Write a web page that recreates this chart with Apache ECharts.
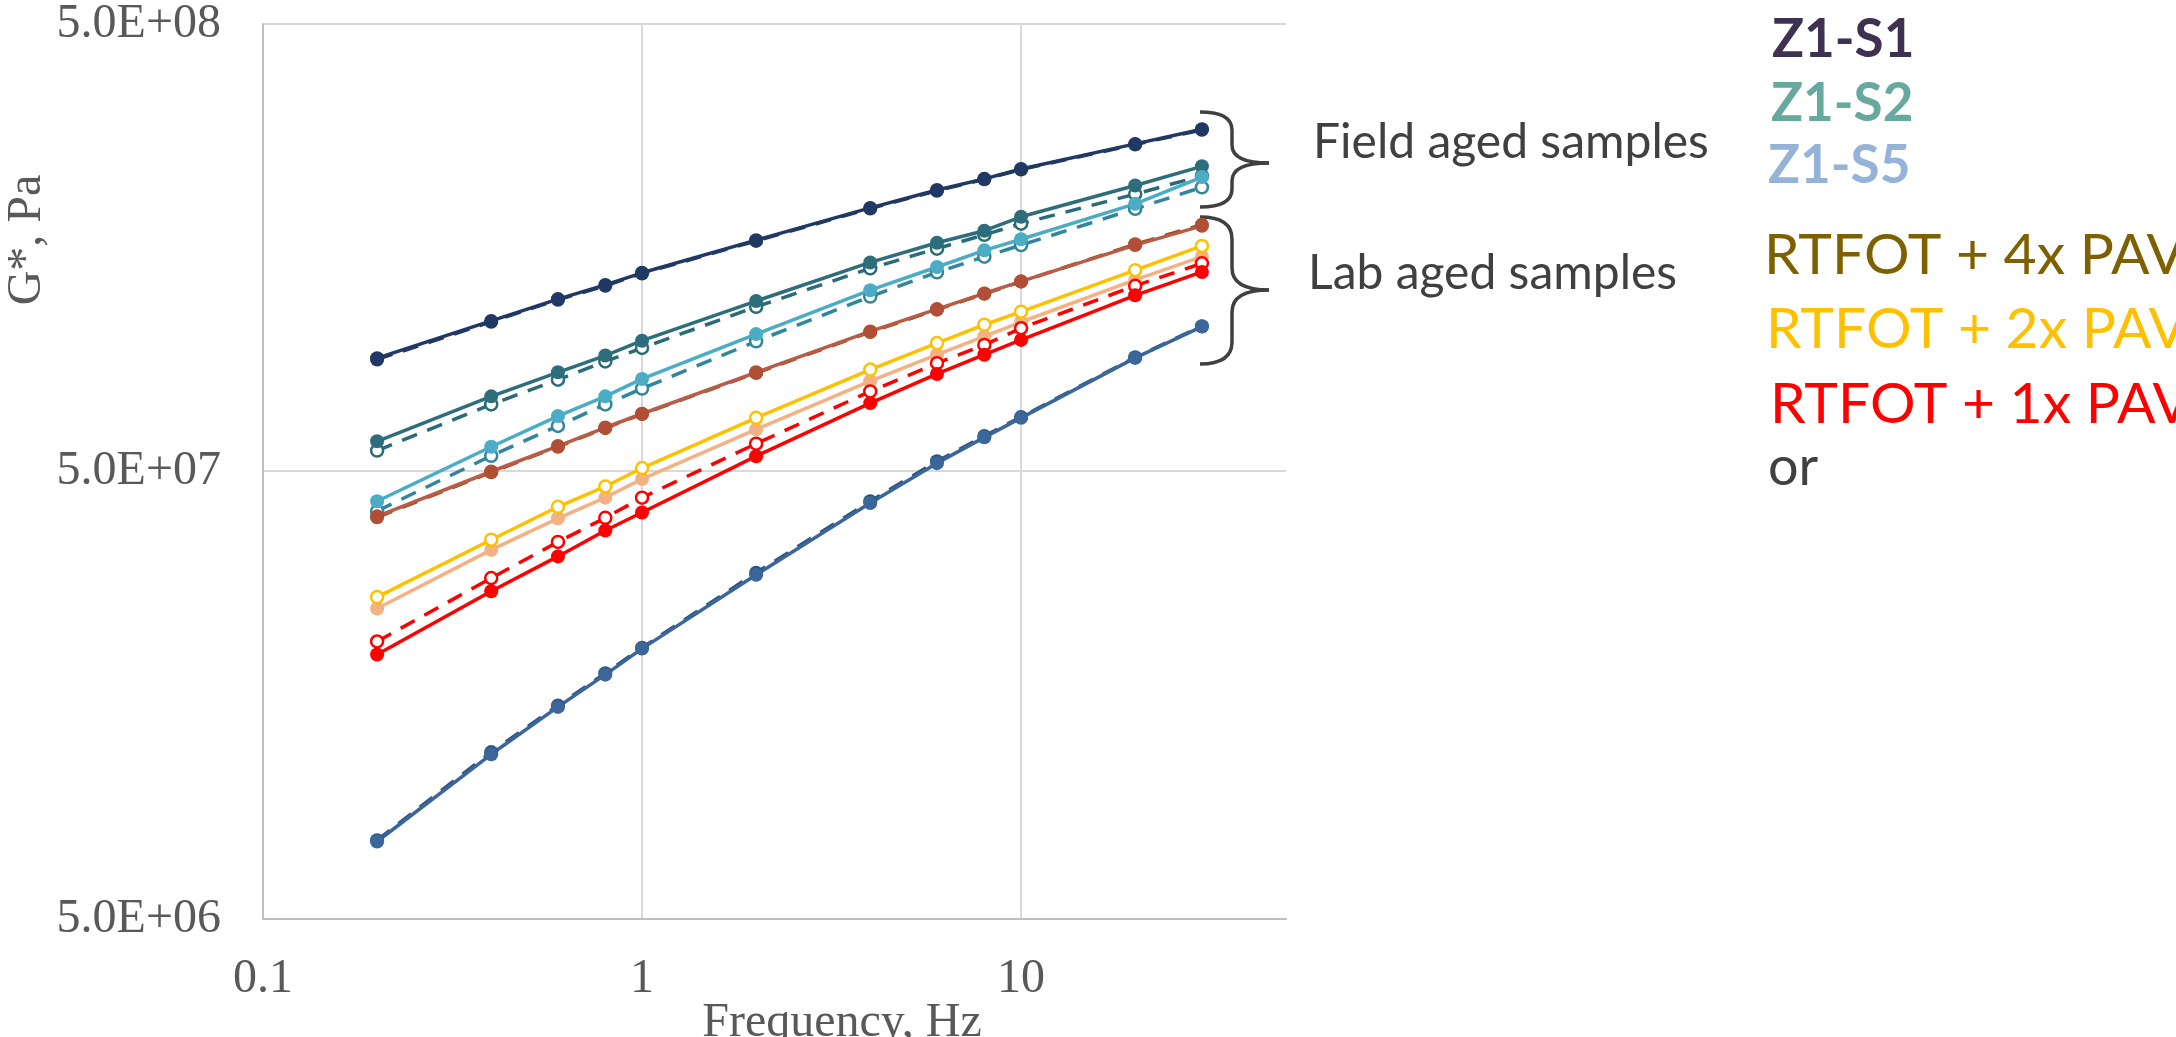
<!DOCTYPE html>
<html lang="en">
<head>
	<meta charset="UTF-8">
	<title>G* vs frequency</title>
	<style>
		html, body { margin: 0; padding: 0; background: #fff; }
	</style>
</head>
<body>
	<div id="main" style="width: 2176px;height: 1037px"></div>
	<script src="https://cdn.jsdelivr.net/npm/echarts@6/dist/echarts.min.js"></script>
	<script>
		// frequency, Hz
		var freq = [0.2, 0.4, 0.6, 0.8, 1, 2, 4, 6, 8, 10, 20, 30]

		// G*, Pa  (field aged)
		var s1Solid  = [8.96e7, 1.085e8, 1.214e8, 1.306e8, 1.39e8, 1.644e8, 1.941e8, 2.128e8, 2.254e8, 2.371e8, 2.698e8, 2.91e8]
		var s1Dashed = [8.9e7, 1.08e8, 1.21e8, 1.30e8, 1.385e8, 1.638e8, 1.935e8, 2.12e8, 2.25e8, 2.365e8, 2.69e8, 2.90e8]
		var s2Solid  = [5.84e7, 7.36e7, 8.33e7, 9.08e7, 9.80e7, 1.202e8, 1.466e8, 1.622e8, 1.726e8, 1.854e8, 2.178e8, 2.404e8]
		var s2Dashed = [5.57e7, 7.06e7, 8.02e7, 8.81e7, 9.44e7, 1.167e8, 1.422e8, 1.574e8, 1.69e8, 1.79e8, 2.084e8, 2.29e8]
		var s5Solid  = [4.29e7, 5.68e7, 6.65e7, 7.36e7, 8.05e7, 1.014e8, 1.271e8, 1.432e8, 1.56e8, 1.652e8, 1.982e8, 2.275e8]
		var s5Dashed = [4.08e7, 5.42e7, 6.32e7, 7.06e7, 7.66e7, 9.77e7, 1.23e8, 1.393e8, 1.51e8, 1.603e8, 1.932e8, 2.158e8]
		// lab aged
		var pav4Solid  = [3.97e7, 5.0e7, 5.70e7, 6.27e7, 6.73e7, 8.33e7, 1.028e8, 1.153e8, 1.25e8, 1.33e8, 1.603e8, 1.77e8]
		var pav4Dashed = [3.95e7, 4.98e7, 5.68e7, 6.25e7, 6.72e7, 8.30e7, 1.025e8, 1.15e8, 1.248e8, 1.328e8, 1.61e8, 1.78e8]
		var pav2Open   = [2.62e7, 3.52e7, 4.17e7, 4.63e7, 5.09e7, 6.59e7, 8.45e7, 9.68e7, 1.064e8, 1.138e8, 1.409e8, 1.596e8]
		var pav2Filled = [2.47e7, 3.34e7, 3.93e7, 4.37e7, 4.81e7, 6.21e7, 7.96e7, 9.12e7, 1.002e8, 1.079e8, 1.34e8, 1.51e8]
		var pav1Open   = [2.085e7, 2.89e7, 3.48e7, 3.94e7, 4.37e7, 5.77e7, 7.55e7, 8.73e7, 9.59e7, 1.045e8, 1.30e8, 1.459e8]
		var pav1Filled = [1.95e7, 2.70e7, 3.23e7, 3.69e7, 4.05e7, 5.41e7, 7.11e7, 8.26e7, 9.12e7, 9.84e7, 1.238e8, 1.396e8]
		var baseSolid  = [7.45e6, 1.167e7, 1.489e7, 1.758e7, 2.01e7, 2.94e7, 4.25e7, 5.22e7, 5.96e7, 6.59e7, 8.97e7, 1.054e8]
		var baseDashed = [7.5e6, 1.18e7, 1.50e7, 1.77e7, 2.02e7, 2.97e7, 4.29e7, 5.27e7, 6.0e7, 6.62e7, 9.0e7, 1.056e8]

		function pts(arr) {
			return freq.map(function (f, i) { return [f, arr[i]] })
		}

		function line(name, arr, color, dashed, open, markColor) {
			return {
				name: name,
				type: 'line',
				data: pts(arr),
				symbol: 'circle',
				symbolSize: open ? 12 : 14,
				lineStyle: { color: color, width: 3.5, type: dashed ? [16, 11] : 'solid' },
				itemStyle: open
					? { color: '#fff', borderColor: color, borderWidth: 2.5 }
					: { color: markColor || color, borderColor: markColor || color, borderWidth: 0 },
				emphasis: { disabled: true }
			}
		}

		function sciLabel(v) {
			var p = v.toExponential(1).split('e')
			var e = p[1]
			return p[0] + 'E' + e[0] + (e.slice(1).length < 2 ? '0' + e.slice(1) : e.slice(1))
		}

		// right-facing curly brace made of curves and lines
		function brace(x0, x1, x2, y0, ym, y1, r) {
			var st = { stroke: '#404040', lineWidth: 3.5, fill: null }
			var c = function (ax, ay, cx, cy, bx, by) {
				return { type: 'bezierCurve', shape: { x1: ax, y1: ay, cpx1: cx, cpy1: cy, x2: bx, y2: by }, style: st }
			}
			var l = function (ax, ay, bx, by) {
				return { type: 'line', shape: { x1: ax, y1: ay, x2: bx, y2: by }, style: st }
			}
			return [
				c(x0, y0, x1, y0, x1, y0 + r),
				l(x1, y0 + r, x1, ym - r),
				c(x1, ym - r, x1, ym, x2, ym),
				c(x2, ym, x1, ym, x1, ym + r),
				l(x1, ym + r, x1, y1 - r),
				c(x1, y1 - r, x1, y1, x0, y1)
			]
		}

		function txt(s, x, y, size, color, bold) {
			return { type: 'text', x: x, y: y,
				style: { text: s, fontFamily: 'Lato', fontWeight: bold ? 'bold' : 'normal', fontSize: size, fill: color, align: 'left', verticalAlign: 'middle' } }
		}

		var myChart = echarts.init(document.getElementById('main'));
		var labelFont = { fontFamily: 'Liberation Serif', fontSize: 48, color: '#595959' }

		var option = {
			animation: false,
			backgroundColor: '#fff',
			grid: { left: 263, right: 890, top: 21, bottom: 118 },
			xAxis: {
				type: 'log', logBase: 10, min: 0.1, max: 50, interval: 1,
				axisLine: { show: true, lineStyle: { color: '#BFBFBF', width: 2 } },
				axisTick: { show: false },
				splitLine: { show: true, showMaxLine: false, lineStyle: { color: '#D9D9D9', width: 2 } },
				axisLabel: Object.assign({
					margin: 36, showMaxLabel: false,
					formatter: function (v) { return String(Number(v.toPrecision(3))) }
				}, labelFont)
			},
			yAxis: {
				type: 'log', logBase: 10, min: 5e6, max: 5e8, interval: 1,
				axisLine: { show: true, lineStyle: { color: '#BFBFBF', width: 2 } },
				axisTick: { show: false },
				splitLine: { show: true, lineStyle: { color: '#D9D9D9', width: 2 } },
				axisLabel: Object.assign({ margin: 42, formatter: sciLabel }, labelFont)
			},
			series: [
				line('Z1-S1', s1Solid, '#1F3864', false, false),
				line('Z1-S1 rep', s1Dashed, '#1F3864', true, false),
				line('Z1-S2 rep', s2Dashed, '#2A6B78', true, true),
				line('Z1-S2', s2Solid, '#2E6E7C', false, false),
				line('Z1-S5 rep', s5Dashed, '#31859C', true, true),
				line('Z1-S5', s5Solid, '#4BACC6', false, false),
				line('RTFOT + 4x PAV rep', pav4Dashed, '#984807', true, false, '#A0522D'),
				line('RTFOT + 4x PAV', pav4Solid, '#B65C48', false, false, '#B04E36'),
				line('RTFOT + 2x PAV', pav2Filled, '#F4B183', false, false),
				line('RTFOT + 2x PAV rep', pav2Open, '#FFC000', false, true),
				line('RTFOT + 1x PAV rep', pav1Open, '#FF0000', true, true),
				line('RTFOT + 1x PAV', pav1Filled, '#FF0000', false, false),
				line('unaged rep', baseDashed, '#2F5382', true, false),
				line('unaged', baseSolid, '#3A6699', false, false)
			],
			graphic: [
				{ type: 'text', x: 27, y: 240, rotation: Math.PI / 2,
				  style: { text: 'G*, Pa', fontFamily: 'Liberation Serif', fontSize: 48, fill: '#595959', align: 'center', verticalAlign: 'middle' } },
				{ type: 'text', x: 842, y: 1023,
				  style: { text: 'Frequency, Hz', fontFamily: 'Liberation Serif', fontSize: 48, fill: '#595959', align: 'center', verticalAlign: 'middle' } },
				txt('Field aged samples', 1313, 143, 48, '#404040'),
				txt('Lab aged samples', 1308, 274, 48, '#404040'),
				txt('Z1-S1', 1772, 40, 53, '#3F3151', true),
				txt('Z1-S2', 1771, 104, 53, '#67A89F', true),
				txt('Z1-S5', 1768, 166, 53, '#95B3D7', true),
				txt('RTFOT + 4x PAV', 1764, 256, 57, '#7F6000'),
				txt('RTFOT + 2x PAV', 1766, 330, 57, '#FFC000'),
				txt('RTFOT + 1x PAV', 1770, 405, 57, '#FF0000'),
				txt('or', 1768, 468, 54, '#404040')
			].concat(brace(1200, 1232, 1269, 112, 163, 207, 18))
			 .concat(brace(1200, 1232, 1269, 217, 290, 364, 22))
		};
		myChart.setOption(option);
	</script>
</body>
</html>
